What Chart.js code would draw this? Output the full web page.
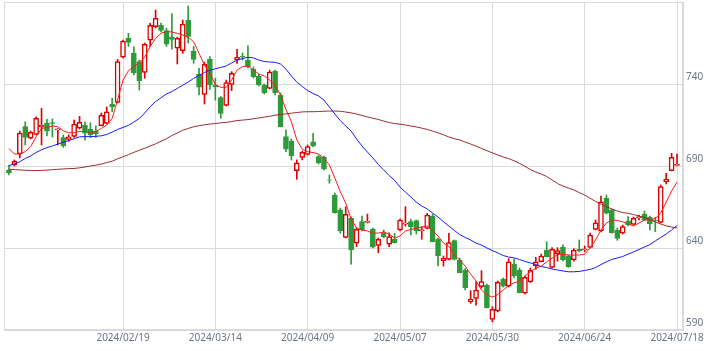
<!DOCTYPE html>
<html>
<head>
<meta charset="utf-8">
<script src="https://cdn.jsdelivr.net/npm/chart.js@4.4.1/dist/chart.umd.min.js"></script>
<style>
  html, body { margin: 0; padding: 0; background: #fff; }
  #wrap { width: 723px; height: 351px; position: relative; }
</style>
</head>
<body>
<div id="wrap"><canvas id="chart"></canvas></div>
<script>
// daily candles, 2024/01/18 .. 2024/07/18 (index = trading day)
const openP = [687.6,690.6,697.3,714.0,706.9,709.3,713.8,716.0,716.5,712.0,
  707.4,706.2,708.0,713.0,715.0,712.3,711.3,714.6,716.0,727.8,
  728.8,756.3,767.8,758.8,753.6,747.1,766.8,775.0,776.0,772.6,
  768.8,761.8,760.3,779.0,760.1,746.1,733.7,755.0,739.4,731.7,
  727.0,739.8,754.6,757.0,754.6,749.1,744.9,739.4,737.3,747.9,
  733.3,707.9,705.2,687.1,695.3,697.1,704.8,695.7,695.3,681.6,
  672.3,663.2,646.5,658.1,642.9,656.1,655.6,651.4,641.6,649.3,
  642.4,645.3,651.0,654.6,656.1,656.7,650.6,652.0,659.5,645.3,
  632.3,633.1,644.6,632.7,626.6,607.3,609.3,616.4,617.4,596.5,
  601.6,621.1,616.8,630.2,626.6,612.4,619.3,629.0,631.6,638.8,
  628.2,636.5,640.4,635.1,632.7,639.4,638.8,640.4,651.4,650.4,
  670.3,663.2,651.0,649.0,656.5,654.4,658.5,660.7,658.9,657.1,
  655.6,680.5,687.2,690.4];
const highP = [690.6,693.7,711.3,717.0,711.3,720.0,725.2,718.5,718.7,712.8,
  708.9,709.0,718.0,720.3,717.0,716.4,714.5,722.3,726.0,731.2,
  755.0,766.8,770.9,762.6,754.6,765.0,777.0,785.1,777.2,774.0,
  783.0,768.6,779.0,787.6,762.9,749.6,753.4,756.7,743.5,732.4,
  742.4,747.5,761.1,758.9,763.2,750.4,746.0,740.0,748.5,748.5,
  734.5,712.0,706.5,693.7,699.1,702.8,709.9,696.7,696.0,684.5,
  673.5,664.4,665.2,658.9,652.2,659.5,660.7,652.2,646.1,651.0,
  649.3,649.0,657.7,665.2,657.5,657.1,653.0,661.1,660.7,646.1,
  635.1,649.0,644.9,633.9,627.5,614.0,619.5,626.2,618.0,604.2,
  619.9,621.7,633.5,633.3,627.8,622.9,627.8,634.3,636.3,643.8,
  640.2,640.2,642.0,635.7,639.6,644.9,641.2,649.1,657.1,671.7,
  672.3,663.7,652.2,654.0,659.1,658.9,660.1,662.5,659.5,658.7,
  678.4,685.5,697.7,697.3];
const lowP = [684.5,690.0,694.9,702.8,706.5,708.9,702.8,708.3,707.7,702.8,
  701.4,705.0,707.4,712.5,705.7,707.3,707.5,714.4,715.6,723.1,
  728.4,755.9,762.9,745.5,736.3,743.5,762.9,774.1,771.7,762.9,
  761.3,752.2,758.7,765.0,752.6,733.3,727.8,736.7,730.2,719.1,
  726.6,736.0,752.6,754.6,749.8,743.7,738.8,733.9,737.0,733.3,
  713.8,698.7,693.7,681.9,693.7,696.7,701.6,691.2,687.6,679.5,
  661.3,649.1,646.1,630.2,640.8,650.4,655.2,640.0,637.1,646.1,
  640.8,643.0,650.4,653.4,647.9,648.5,645.3,651.6,643.7,629.0,
  629.0,632.7,632.7,624.8,614.4,606.3,605.2,615.6,603.4,595.0,
  601.0,616.2,616.2,621.7,612.6,612.0,619.0,627.0,631.5,634.5,
  627.8,632.0,632.1,628.2,632.0,637.6,637.7,640.0,651.0,649.8,
  660.7,649.1,644.7,648.5,653.4,654.0,657.1,656.5,651.0,650.0,
  655.2,679.0,687.0,690.0];
const closeP = [686.0,692.9,710.0,707.5,710.6,719.1,715.0,711.3,716.0,712.6,
  702.2,707.8,715.5,716.6,710.0,708.9,709.5,720.9,723.0,726.2,
  753.6,766.2,765.3,746.7,742.0,764.2,775.8,780.0,772.6,764.3,
  767.2,767.8,776.6,769.0,755.0,738.0,752.0,739.4,738.4,722.1,
  740.8,746.5,756.3,756.3,750.5,744.5,739.4,734.7,747.3,734.7,
  714.0,700.2,696.1,692.0,698.3,701.8,702.2,692.0,688.0,681.3,
  661.5,650.4,660.5,638.8,651.4,651.0,656.2,640.5,645.3,646.9,
  646.9,643.3,657.1,655.2,653.0,650.6,651.2,660.1,643.9,635.1,
  633.7,643.3,633.1,625.0,615.6,608.9,614.4,619.5,603.6,602.6,
  619.1,616.8,631.6,622.9,612.8,622.1,626.4,631.6,635.1,634.7,
  639.2,638.5,632.7,628.6,638.8,638.2,639.4,647.9,655.4,668.2,
  661.2,649.3,645.9,653.0,654.0,658.1,659.1,657.1,654.9,656.7,
  677.4,681.9,695.3,691.0];

// moving averages as drawn (5, 25, 75 day)
const ma5 = [700.7,697.3,697.3,698.7,701.8,707.8,712.9,713.5,714.4,714.0,
  711.5,710.3,710.3,711.1,711.1,710.4,711.0,712.9,715.0,719.1,
  730.2,742.4,748.1,750.6,753.2,756.3,762.9,767.8,770.9,772.0,
  771.7,770.9,769.9,768.5,765.8,758.7,751.6,746.5,739.4,738.0,
  738.0,742.4,748.5,750.6,751.0,748.5,746.1,744.9,742.4,739.4,
  733.3,724.5,717.0,705.9,700.2,698.7,698.2,697.3,694.7,690.6,
  682.7,674.4,667.4,657.7,652.2,651.0,650.4,649.0,649.1,649.8,
  648.5,646.1,647.3,650.4,651.3,652.0,652.8,653.4,650.4,647.3,
  643.0,640.9,635.7,632.7,629.0,624.1,619.9,614.4,611.3,610.1,
  611.6,614.4,617.1,618.7,619.9,622.9,625.4,627.8,629.0,631.5,
  633.9,636.0,636.3,635.7,635.7,635.7,636.3,640.0,644.9,651.0,
  655.2,657.1,656.8,656.0,654.6,653.4,655.2,657.1,657.1,658.0,
  661.3,668.0,674.8,680.2];
const ma25 = [690.2,691.3,692.6,694.6,696.1,698.2,699.9,701.2,702.2,703.4,
  704.5,705.5,706.6,707.8,707.9,707.9,708.1,708.4,709.2,710.7,
  712.3,713.5,714.8,716.8,719.0,722.3,726.2,729.3,731.6,733.9,
  735.4,737.3,739.3,741.2,743.4,745.2,747.0,748.4,749.3,750.1,
  751.0,752.8,754.6,755.5,756.3,755.9,754.6,753.7,753.4,753.2,
  752.2,749.1,744.9,741.2,738.5,736.0,734.2,732.7,730.2,726.0,
  721.7,717.7,714.4,711.3,706.5,702.2,698.5,694.9,690.9,687.6,
  684.2,681.2,677.2,674.1,671.1,668.0,665.6,663.8,661.3,658.9,
  656.0,653.4,650.7,648.2,646.4,644.9,643.0,641.8,640.0,638.5,
  637.0,635.4,634.5,634.0,633.0,631.8,630.9,629.9,628.7,628.1,
  627.2,626.6,626.0,625.5,625.5,625.7,626.3,626.9,628.1,629.9,
  631.6,633.0,633.9,634.8,636.3,637.6,639.1,640.6,642.1,644.3,
  646.4,648.5,651.0,653.7];
const ma75 = [688.0,687.8,687.6,687.4,687.2,687.2,687.3,687.5,687.7,688.0,
  688.2,688.4,688.5,688.9,689.4,690.0,690.5,691.2,692.1,692.9,
  694.4,695.6,696.9,698.3,699.6,700.8,702.2,703.5,705.1,706.6,
  708.6,710.1,711.8,712.9,713.9,714.6,715.1,715.6,715.9,716.3,
  716.6,717.1,717.7,718.0,718.3,718.8,719.3,719.8,720.3,721.0,
  721.4,721.8,722.2,722.6,723.0,723.1,723.1,723.2,723.4,723.5,
  723.5,723.4,722.9,722.4,721.7,720.8,719.9,719.1,718.4,717.4,
  716.5,715.9,715.5,715.0,714.4,713.8,713.1,712.3,711.3,710.2,
  709.0,707.7,706.6,705.9,704.6,703.4,702.1,700.7,699.3,698.0,
  696.7,695.5,694.5,693.2,691.6,689.8,687.9,686.3,685.1,683.6,
  681.5,679.3,677.8,676.6,675.4,673.8,672.3,670.3,668.4,666.8,
  665.2,663.8,662.6,661.6,661.2,660.4,659.5,658.6,657.4,655.9,
  654.6,653.5,652.8,652.2];

// x-axis labels and the trading-day index they sit on
const tickIndex = [21, 38, 55, 72, 89, 106, 123];
const tickLabels = ['2024/02/19','2024/03/14','2024/04/09','2024/05/07','2024/05/30','2024/06/24','2024/07/18'];
const yTicks = [590, 640, 690, 740];

const RED = '#e00000';
const GREEN = '#2f9a3a';
const GRID = '#dadada';
const TEXT = '#6b7582';

const idx = openP.map((_, i) => i);
const up = idx.map(i => closeP[i] >= openP[i]);

// thin frame round the plot area
const frame = {
  id: 'frame',
  beforeDatasetsDraw(chart) {
    const a = chart.chartArea, ctx = chart.ctx;
    ctx.save();
    ctx.strokeStyle = GRID;
    ctx.lineWidth = 1;
    ctx.strokeRect(Math.round(a.left) + 0.5, Math.round(a.top) + 0.5,
      Math.round(a.width) - 1, Math.round(a.height) - 1);
    ctx.restore();
  }
};

const lineSet = (label, values, color, order) => ({
  type: 'line',
  label,
  data: idx.map(i => ({ x: i, y: values[i] })),
  borderColor: color,
  borderWidth: 1,
  pointRadius: 0,
  tension: 0,
  order
});

new Chart(document.getElementById('chart'), {
  type: 'bar',
  data: {
    datasets: [
      lineSet('MA5', ma5, '#ff1a1a', 0),
      lineSet('MA25', ma25, '#1a1aff', 1),
      lineSet('MA75', ma75, '#9b2d2d', 1),
      {
        label: 'wick',
        data: idx.map(i => ({ x: i, y: [lowP[i], highP[i]] })),
        backgroundColor: idx.map(i => up[i] ? RED : GREEN),
        barThickness: 1,
        grouped: false,
        order: 4
      },
      {
        label: 'body',
        data: idx.map(i => ({ x: i, y: [openP[i], closeP[i]] })),
        backgroundColor: idx.map(i => up[i] ? '#ffffff' : GREEN),
        borderColor: idx.map(i => up[i] ? RED : GREEN),
        borderWidth: idx.map(i => up[i] ? 1.5 : 0.8),
        borderSkipped: false,
        barThickness: 5,
        grouped: false,
        order: 3
      }
    ]
  },
  options: {
    responsive: true,
    maintainAspectRatio: false,
    animation: false,
    layout: { padding: { left: 4, top: 2, right: 0, bottom: 0 } },
    plugins: { legend: { display: false }, tooltip: { enabled: false } },
    scales: {
      x: {
        type: 'linear',
        offset: false,
        min: -0.91,
        max: 124.1,
        afterBuildTicks: s => { s.ticks = tickIndex.map(v => ({ value: v })); },
        afterFit: s => { s.height = 21; s.paddingLeft = 0; s.paddingRight = 0; },
        ticks: {
          autoSkip: false,
          maxRotation: 0,
          padding: 2,
          color: TEXT,
          font: { family: 'Noto Sans', size: 10 },
          callback: (v, i) => tickLabels[i]
        },
        grid: { color: GRID, drawTicks: false, offset: false },
        border: { color: GRID }
      },
      y: {
        position: 'right',
        min: 590,
        max: 790,
        afterBuildTicks: s => { s.ticks = yTicks.map(v => ({ value: v })); },
        afterFit: s => { s.width = 40; s.paddingTop = 0; s.paddingBottom = 0; },
        ticks: {
          padding: 3,
          labelOffset: -7,
          color: TEXT,
          font: { family: 'Noto Sans', size: 10 }
        },
        grid: { color: GRID, drawTicks: false },
        border: { color: GRID }
      }
    }
  },
  plugins: [frame]
});
</script>
</body>
</html>
